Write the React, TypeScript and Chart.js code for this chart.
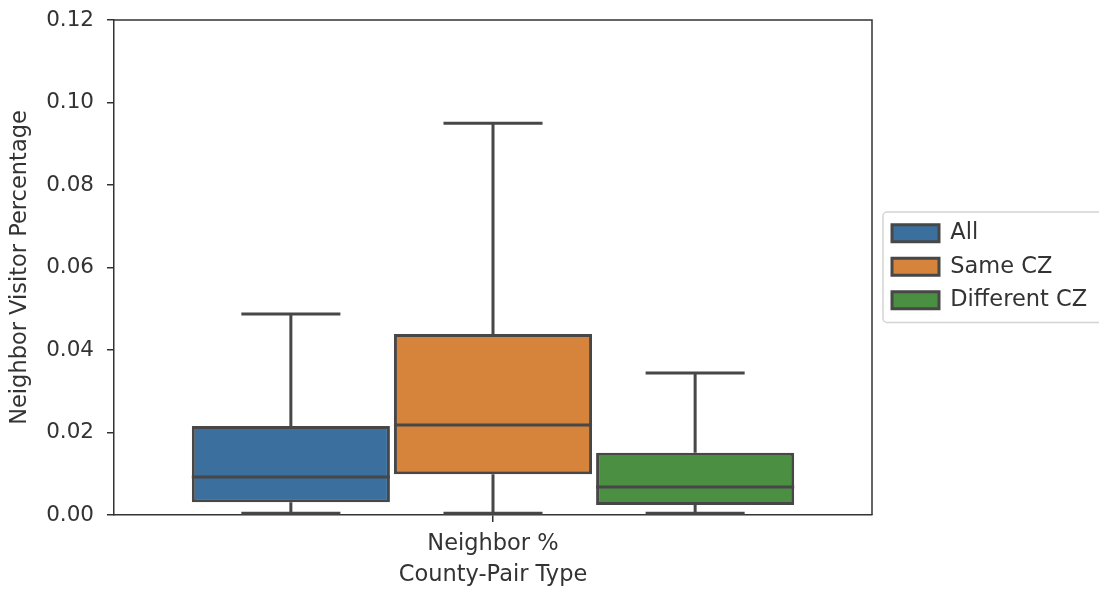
import React, { useEffect, useRef } from "react";
import { Chart, registerables } from "chart.js";

Chart.register(...registerables);

const categories = ["Neighbor %"];
const seriesNames = ["All", "Same CZ", "Different CZ"];
const q1Values = [0.0031, 0.0099, 0.0024];
const medianValues = [0.0092, 0.0218, 0.0068];
const q3Values = [0.0216, 0.0439, 0.0151];
const whiskerLow = [0.0004, 0.0004, 0.0004];
const whiskerHigh = [0.0487, 0.095, 0.0344];
const fillColors = ["#3a6f9e", "#d6843c", "#4a8f42"];
const yTicks = [0, 0.02, 0.04, 0.06, 0.08, 0.1, 0.12];

const EDGE = "#474747";
const TEXT = "#333333";
const FONT = "'DejaVu Sans', sans-serif";
const LEG_PAD = 11;

const boxPlugin = {
  id: "boxWhiskers",
  afterDatasetsDraw(chart: any) {
    const ctx = chart.ctx;
    const y = chart.scales.y;
    ctx.save();
    ctx.strokeStyle = EDGE;
    ctx.lineWidth = 3;
    chart.data.datasets.forEach((_ds: any, i: number) => {
      const meta = chart.getDatasetMeta(i);
      const el = meta.data[0];
      if (!el) return;
      const x = el.x;
      const w = el.width;
      const pQ1 = y.getPixelForValue(q1Values[i]);
      const pQ3 = y.getPixelForValue(q3Values[i]);
      const pMed = y.getPixelForValue(medianValues[i]);
      const pLo = y.getPixelForValue(whiskerLow[i]);
      const pHi = y.getPixelForValue(whiskerHigh[i]);
      ctx.beginPath();
      ctx.moveTo(x, pQ3);
      ctx.lineTo(x, pHi);
      ctx.moveTo(x - w / 4, pHi);
      ctx.lineTo(x + w / 4, pHi);
      ctx.moveTo(x, pQ1);
      ctx.lineTo(x, pLo);
      ctx.moveTo(x - w / 4, pLo);
      ctx.lineTo(x + w / 4, pLo);
      ctx.moveTo(x - w / 2, pMed);
      ctx.lineTo(x + w / 2, pMed);
      ctx.stroke();
    });
    ctx.restore();
  },
};

const framePlugin = {
  id: "frameAndLegendBox",
  beforeDraw(chart: any) {
    const ctx = chart.ctx;
    const lg = chart.legend;
    if (!lg || !lg.columnSizes || !lg.columnSizes.length) return;
    // place legend block
    const area = chart.chartArea;
    const w = lg.width;
    const h = lg.bottom - lg.top;
    lg.left = area.right + 9;
    lg.right = lg.left + w;
    const colH = lg.columnSizes[0].height;
    const targetStart = 222;
    // yStart = (top + pad + bottom - colH)/2 ; bottom = top + h
    lg.top = (2 * targetStart - LEG_PAD - h + colH) / 2;
    lg.bottom = lg.top + h;
    const yStart = (lg.top + LEG_PAD + lg.bottom - colH) / 2;
    const left = lg.left + LEG_PAD - 9;
    const top = yStart - 10;
    const bottom = yStart + colH;
    const right = chart.width + 6;
    const r = 4;
    ctx.save();
    ctx.fillStyle = "#ffffff";
    ctx.strokeStyle = "#d4d4d4";
    ctx.lineWidth = 1.5;
    ctx.beginPath();
    ctx.moveTo(left + r, top);
    ctx.lineTo(right - r, top);
    ctx.arcTo(right, top, right, top + r, r);
    ctx.lineTo(right, bottom - r);
    ctx.arcTo(right, bottom, right - r, bottom, r);
    ctx.lineTo(left + r, bottom);
    ctx.arcTo(left, bottom, left, bottom - r, r);
    ctx.lineTo(left, top + r);
    ctx.arcTo(left, top, left + r, top, r);
    ctx.closePath();
    ctx.fill();
    ctx.stroke();
    ctx.restore();
  },
  afterDraw(chart: any) {
    const ctx = chart.ctx;
    const a = chart.chartArea;
    ctx.save();
    ctx.strokeStyle = TEXT;
    ctx.lineWidth = 1.5;
    ctx.beginPath();
    ctx.moveTo(a.left, a.top);
    ctx.lineTo(a.right, a.top);
    ctx.lineTo(a.right, a.bottom);
    ctx.stroke();
    ctx.restore();
  },
};

const legendWidthPlugin = {
  id: "legendWidth",
  beforeUpdate(chart: any) {
    const lg = chart.legend;
    if (lg && !lg.__patched) {
      const orig = lg.fit;
      lg.fit = function () {
        orig.call(this);
        this.width = 227;
      };
      lg.__patched = true;
    }
  },
};

export default function App() {
  const ref = useRef<HTMLCanvasElement | null>(null);
  useEffect(() => {
    document.body.style.margin = "0";
    const canvas = ref.current;
    if (!canvas) return;
    const datasets = seriesNames.map((name, i) => ({
      label: name,
      data: [[q1Values[i], q3Values[i]]] as any,
      backgroundColor: fillColors[i],
      borderColor: EDGE,
      borderWidth: 3,
      borderSkipped: false,
      categoryPercentage: 0.8,
      barPercentage: 0.98,
    }));
    const chart = new Chart(canvas, {
      type: "bar",
      data: { labels: categories, datasets },
      plugins: [legendWidthPlugin, framePlugin, boxPlugin],
      options: {
        responsive: false,
        animation: false,
        layout: { padding: { top: 20, left: 0, right: 0, bottom: 0 } },
        plugins: {
          tooltip: { enabled: false },
          legend: {
            position: "right",
            align: "center",
            labels: {
              boxWidth: 47,
              boxHeight: 17,
              padding: LEG_PAD,
              color: TEXT,
              font: { family: FONT, size: 22.5 },
            },
          },
        },
        scales: {
          x: {
            offset: true,
            grid: {
              display: true,
              offset: false,
              drawOnChartArea: false,
              drawTicks: true,
              tickLength: 7,
              color: TEXT,
              lineWidth: 1.5,
            },
            border: { display: true, color: TEXT, width: 1.5 },
            ticks: { color: TEXT, padding: 9, font: { family: FONT, size: 22.5 } },
            title: {
              display: true,
              text: "County-Pair Type",
              color: TEXT,
              padding: { top: 0, bottom: 0 },
              font: { family: FONT, size: 22.5 },
            },
            afterFit: (s: any) => {
              s.height = 74;
            },
          },
          y: {
            min: 0,
            max: 0.12,
            afterBuildTicks: (s: any) => {
              s.ticks = yTicks.map((v) => ({ value: v }));
            },
            grid: {
              display: true,
              drawOnChartArea: false,
              drawTicks: true,
              tickLength: 7,
              color: TEXT,
              lineWidth: 1.5,
            },
            border: { display: true, color: TEXT, width: 1.5 },
            ticks: {
              color: TEXT,
              padding: 13,
              font: { family: FONT, size: 21.5 },
              callback: (v: any) => Number(v).toFixed(2),
            },
            title: {
              display: true,
              text: "Neighbor Visitor Percentage",
              color: TEXT,
              padding: { top: 7, bottom: 0 },
              font: { family: FONT, size: 22.5 },
            },
            afterFit: (s: any) => {
              s.width = 114;
              s.paddingTop = 0;
              s.paddingBottom = 0;
            },
          },
        },
      },
    });
    return () => chart.destroy();
  }, []);
  return (
    <div style={{ width: 1099, height: 589 }}>
      <canvas ref={ref} width={1099} height={589} />
    </div>
  );
}
